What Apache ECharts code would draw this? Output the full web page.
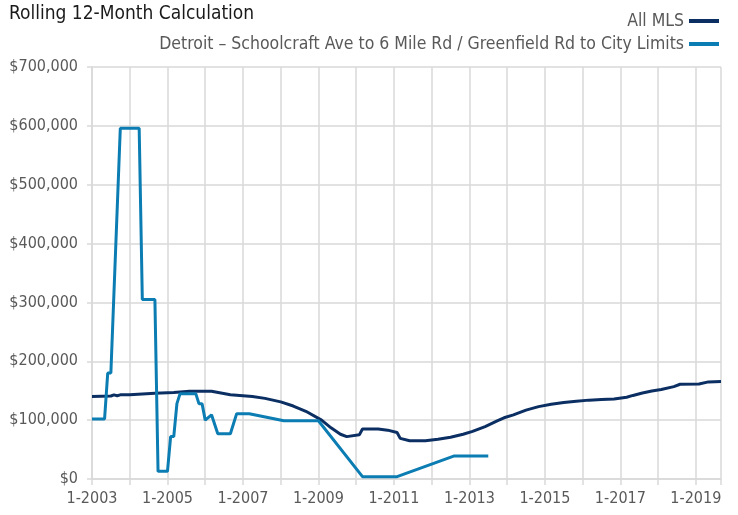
<!DOCTYPE html>
<html>
<head>
<meta charset="utf-8">
<script src="https://cdn.jsdelivr.net/npm/echarts@6/dist/echarts.min.js"></script>
<style>
html, body { margin: 0; padding: 0; background: #fff; }
#chart { width: 738px; height: 515px; }
</style>
</head>
<body>
<div id="chart"></div>
<script>
// All MLS, rolling 12-month (month, value)
var mlsMonths = ['2003-01','2003-07','2003-08','2003-09','2003-10','2004-01','2004-09','2005-03','2005-08','2006-03',
  '2006-09','2007-04','2007-08','2008-01','2008-05','2008-09','2009-02','2009-05','2009-08','2009-10',
  '2010-02','2010-03','2010-08','2010-11','2011-02','2011-03','2011-06','2011-11','2012-03','2012-07',
  '2012-11','2013-02','2013-06','2013-10','2013-12','2014-03','2014-07','2014-11','2015-03','2015-07',
  '2015-11','2016-03','2016-07','2016-11','2017-03','2017-05','2017-08','2017-11','2018-02','2018-06',
  '2018-08','2019-02','2019-05','2019-09'];
var mlsValues = [140000,141000,143000,141500,143000,143000,145500,147000,149000,149000,
  143000,140000,137000,131000,124000,115000,100000,87000,76000,72000,
  75000,85000,85000,83000,79000,69000,65000,65000,67500,71000,
  76000,81000,89000,99000,104000,109000,117000,123000,127000,130000,
  132000,134000,135000,136000,139000,142000,146000,149500,152000,157000,
  161000,161500,165000,165500];

// Detroit area (month, value)
var detroitMonths = ['2003-01','2003-05','2003-06','2003-07','2003-10','2004-04','2004-05','2004-09','2004-10','2005-01',
  '2005-02','2005-03','2005-04','2005-05','2005-10','2005-11','2005-12','2006-01','2006-03','2006-05',
  '2006-09','2006-11','2007-03','2008-02','2009-01','2010-03','2011-02','2012-08','2013-07'];
var detroitValues = [102000,102000,180000,180000,596000,596000,305000,305000,13000,13000,
  72000,72000,128000,145000,145000,128000,128000,100000,109000,77000,
  77000,111000,111000,99000,99000,4000,4000,39000,39000];

var xLabelYears = [2003, 2005, 2007, 2009, 2011, 2013, 2015, 2017, 2019];
var xStart = 2003, xEnd = 2019 + 8 / 12;

var FONT = "'Liberation Sans Narrow', 'DejaVu Sans Condensed', sans-serif";

function toYear(s) {
  var p = s.split('-');
  return +p[0] + (+p[1] - 1) / 12;
}
function pairs(months, values) {
  return months.map(function (m, i) { return [toYear(m), values[i]]; });
}

var myChart = echarts.init(document.getElementById('chart'));
var option = {
  animation: false,
  title: {
    text: 'Rolling 12-Month Calculation',
    left: 4,
    top: 0,
    textStyle: { fontFamily: FONT, fontSize: 19, fontWeight: 'normal', color: '#1a1a1a' }
  },
  legend: {
    orient: 'vertical',
    right: 14,
    top: 7,
    align: 'right',
    itemWidth: 30,
    itemHeight: 4,
    itemGap: 5,
    icon: 'rect',
    textStyle: { fontFamily: FONT, fontSize: 17.5, color: '#595959' },
    data: ['All MLS', 'Detroit – Schoolcraft Ave to 6 Mile Rd / Greenfield Rd to City Limits']
  },
  grid: { left: 92, right: 17, top: 67, bottom: 36 },
  xAxis: {
    type: 'value',
    min: xStart,
    max: xEnd,
    interval: 1,
    axisLine: { show: true, lineStyle: { color: '#d9d9d9', width: 1.5 } },
    axisTick: { show: true, length: 6, lineStyle: { color: '#d9d9d9', width: 1.5 } },
    splitLine: { show: true, lineStyle: { color: '#d9d9d9', width: 1.5 } },
    axisLabel: {
      margin: 12,
      fontFamily: FONT,
      fontSize: 16,
      color: '#595959',
      showMaxLabel: true,
      formatter: function (v) {
        var r = Math.round(v);
        return (Math.abs(v - r) < 1e-6 && xLabelYears.indexOf(r) >= 0) ? '1-' + r : '';
      }
    }
  },
  yAxis: {
    type: 'value',
    min: 0,
    max: 700000,
    interval: 100000,
    axisLine: { show: true, lineStyle: { color: '#d9d9d9', width: 1.5 } },
    axisTick: { show: true, length: 5, lineStyle: { color: '#d9d9d9', width: 1.5 } },
    splitLine: { show: true, lineStyle: { color: '#d9d9d9', width: 1.5 } },
    axisLabel: {
      margin: 14,
      fontFamily: FONT,
      fontSize: 16,
      color: '#595959',
      formatter: function (v) { return '$' + v.toLocaleString('en-US'); }
    }
  },
  series: [
    {
      name: 'All MLS',
      type: 'line',
      showSymbol: false,
      data: pairs(mlsMonths, mlsValues),
      lineStyle: { color: '#0c2f63', width: 3 },
      itemStyle: { color: '#0c2f63' },
      z: 2
    },
    {
      name: 'Detroit – Schoolcraft Ave to 6 Mile Rd / Greenfield Rd to City Limits',
      type: 'line',
      showSymbol: false,
      data: pairs(detroitMonths, detroitValues),
      lineStyle: { color: '#0b7db3', width: 3 },
      itemStyle: { color: '#0b7db3' },
      z: 3
    }
  ]
};
myChart.setOption(option);
</script>
</body>
</html>
